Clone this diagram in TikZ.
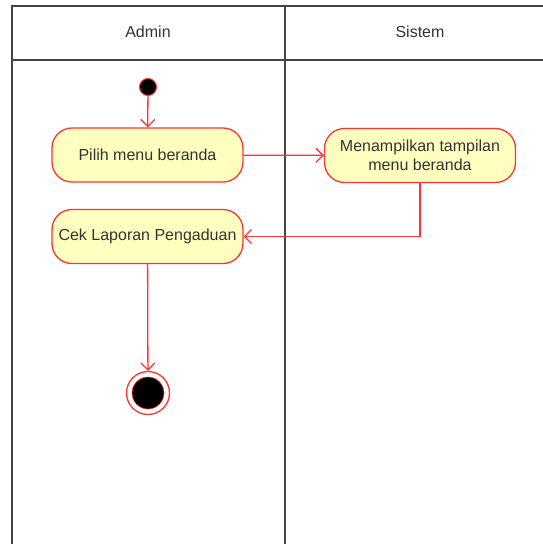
\documentclass[tikz,border=0pt]{standalone}
\usepackage{fontspec}
\setmainfont{Liberation Sans}
\usetikzlibrary{arrows.meta}
\definecolor{flowred}{HTML}{FF3333}
\definecolor{actfill}{HTML}{FFFFC0}
\definecolor{inktext}{HTML}{333333}
\definecolor{laneline}{HTML}{444444}
\begin{document}
\begin{tikzpicture}[x=1pt,y=-1pt,
  action/.style={draw=flowred, fill=actfill, line width=1.3pt, rounded corners=20pt,
    minimum width=191pt, minimum height=54pt, text=inktext,
    font=\fontsize{16}{19}\selectfont, align=center, inner sep=0pt},
  flow/.style={draw=flowred, line width=1.3pt, -{Straight Barb[length=7pt,width=14pt,line width=1.3pt]}},
  lane/.style={draw=laneline, line width=1.8pt},
  lanetitle/.style={text=inktext, font=\fontsize{16}{19}\selectfont}]
\useasboundingbox (0,0) rectangle (543,544);

% swimlane frame
\draw[lane] (12,544) -- (12,6) -- (543,6);
\draw[lane] (12,60) -- (543,60);
\draw[lane] (285,6) -- (285,544);
\node[lanetitle] (admin) at (148,32) {Admin};
\node[lanetitle] (sistem) at (420,32) {Sistem};

% activities
\node[circle, fill=black, draw=flowred, line width=1pt, minimum size=17pt, inner sep=0pt] (start) at (148,87) {};
\node[action] (pilih) at (147.5,155) {Pilih menu beranda};
\node[action] (menam) at (420,155.5) {Menampilkan tampilan\\menu beranda};
\node[action] (cek) at (147.5,236.5) {Cek Laporan Pengaduan};
\node[circle, draw=flowred, fill=white, line width=1.3pt, minimum size=43pt, inner sep=0pt] (end) at (148,393) {};
\node[circle, fill=black, draw=flowred, line width=0.6pt, minimum size=32pt, inner sep=0pt] (endcore) at (end) {};

% control flow
\draw[flow] (start) -- (pilih);
\draw[flow] (pilih) -- (menam);
\draw[flow] (menam.south) |- (cek.east);
\draw[flow] (cek) -- (end);
\end{tikzpicture}
\end{document}
